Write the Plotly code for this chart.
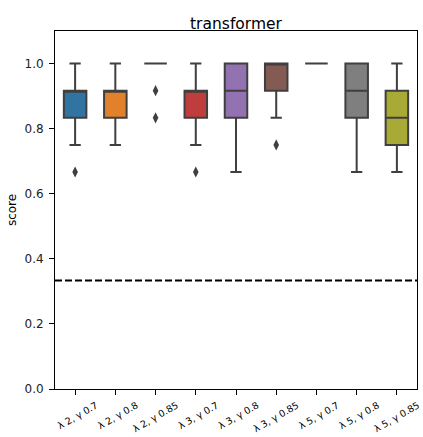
import plotly.graph_objects as go

categories = ["λ 2, γ 0.7", "λ 2, γ 0.8", "λ 2, γ 0.85", "λ 3, γ 0.7", "λ 3, γ 0.8",
              "λ 3, γ 0.85", "λ 5, γ 0.7", "λ 5, γ 0.8", "λ 5, γ 0.85"]
q1 = [0.8333, 0.8333, 1.0, 0.8333, 0.8333, 0.9167, 1.0, 0.8333, 0.75]
median = [0.9167, 0.9167, 1.0, 0.9167, 0.9167, 1.0, 1.0, 0.9167, 0.8333]
q3 = [0.9167, 0.9167, 1.0, 0.9167, 1.0, 1.0, 1.0, 1.0, 0.9167]
lowerfence = [0.75, 0.75, 1.0, 0.75, 0.6667, 0.8333, 1.0, 0.6667, 0.6667]
upperfence = [1.0, 1.0, 1.0, 1.0, 1.0, 1.0, 1.0, 1.0, 1.0]
outliers = [[0.6667], [], [0.9167, 0.8333], [0.6667], [], [0.75], [], [], []]
baseline = 1 / 3
y_ticks = [0, 0.2, 0.4, 0.6, 0.8, 1.0]

colors = ["#3274a1", "#e1812c", "#3a923a", "#c03d3e", "#9372b2",
          "#845b53", "#d684bd", "#7f7f7f", "#a9aa35"]
edge = "#3f3f3f"

fig = go.Figure()
for i, c in enumerate(categories):
    fig.add_trace(go.Box(
        x=[c], q1=[q1[i]], median=[median[i]], q3=[q3[i]],
        lowerfence=[lowerfence[i]], upperfence=[upperfence[i]],
        fillcolor=colors[i], line=dict(color=edge, width=2),
        whiskerwidth=0.5, boxpoints=False, showlegend=False,
        hoverinfo="skip",
    ))
    if outliers[i]:
        fig.add_trace(go.Scatter(
            x=[c] * len(outliers[i]), y=outliers[i], mode="markers",
            marker=dict(symbol="diamond-tall", size=8, color=edge),
            showlegend=False, hoverinfo="skip",
        ))

fig.add_shape(type="line", xref="paper", x0=0, x1=1, yref="y", y0=baseline, y1=baseline,
              line=dict(color="black", width=1.8, dash="7px,3px"))

fig.update_layout(
    width=423, height=437,
    margin=dict(l=55, r=6, t=31, b=48, autoexpand=False),
    paper_bgcolor="white", plot_bgcolor="white",
    font=dict(family="DejaVu Sans", color="black"),
    title=dict(text="transformer", x=0.5, xanchor="center", xref="paper",
               y=1, yref="paper", yanchor="bottom", pad=dict(b=2),
               font=dict(size=15.5, color="black")),
    boxmode="overlay", boxgap=0.2,
    xaxis=dict(type="category", categoryorder="array", categoryarray=categories,
               range=[-0.5, 8.5], showgrid=False, zeroline=False,
               showline=True, linecolor="black", linewidth=1, mirror=True,
               ticks="outside", ticklen=4.5, tickcolor="black",
               tickangle=-30, ticklabelshift=21, ticklabelstandoff=2,
               tickfont=dict(size=9.5, color="black")),
    yaxis=dict(range=[0, 1.1], showgrid=False, zeroline=False,
               showline=True, linecolor="black", linewidth=1, mirror=True,
               ticks="outside", ticklen=5, tickcolor="black",
               tickvals=y_ticks, tickformat=".1f", ticklabelstandoff=3,
               tickfont=dict(size=12, color="#222"),
               title=dict(text="score", font=dict(size=12, color="black"), standoff=5)),
)

fig.write_html("out.html", config={"displayModeBar": False},
               post_script="document.body.style.margin='0';")
